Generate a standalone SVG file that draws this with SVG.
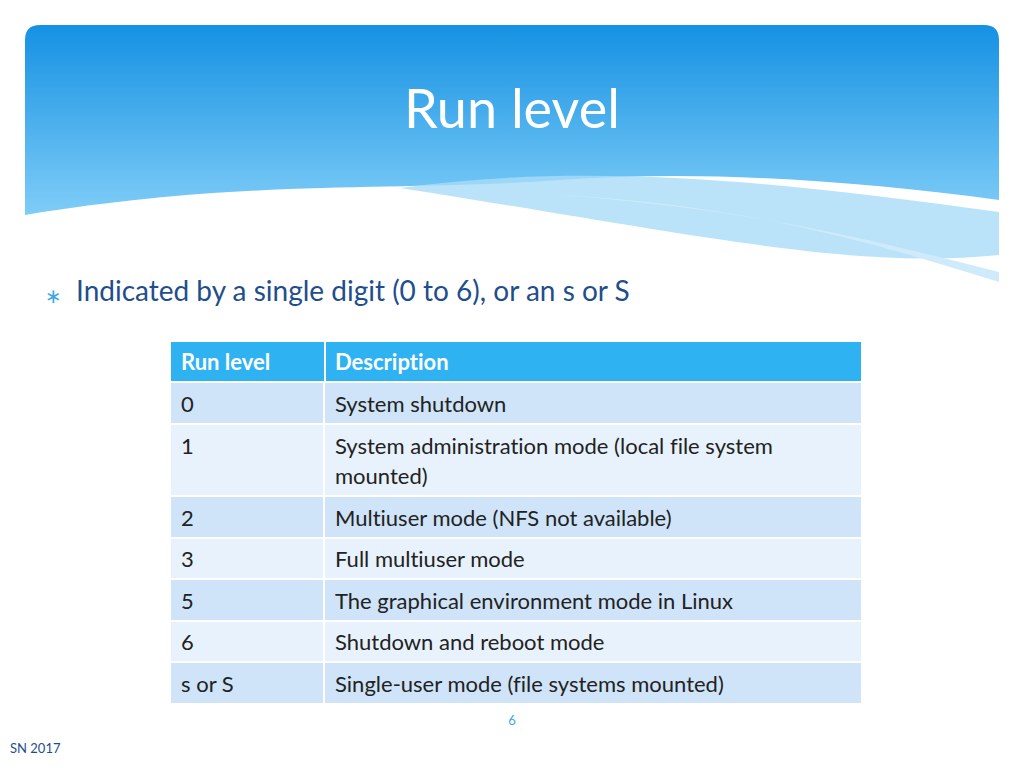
<svg xmlns="http://www.w3.org/2000/svg" width="1024" height="768" viewBox="0 0 1024 768">
<defs>
<linearGradient id="hg" x1="0" y1="0" x2="0" y2="1">
<stop offset="0" stop-color="#1591e3"/><stop offset="1" stop-color="#7fcdf7"/>
</linearGradient>
<style>
text{font-variant-ligatures:none}
.t{font-family:Lato,"Open Sans",sans-serif;font-size:22px;fill:#222}
.h{font-family:Lato,"Open Sans",sans-serif;font-size:22px;fill:#fff;font-weight:bold}
.a{fill:#cfe4f8}.b{fill:#e8f2fc}
</style>
</defs>
<rect width="1024" height="768" fill="#fff"/>
<g id="header">
<path d="M25,40 Q25,25 40,25 L984,25 Q999,25 999,40 L999,200 C850,180 700,170 560,180 C400,192 250,178 25,215 Z" fill="url(#hg)"/>
<path d="M400,188 C600,160 800,185 999,212 L999,255 C850,270 700,235 400,188 Z" fill="#a9dcf8" opacity="0.8"/>
<path d="M560,195 C750,205 880,245 999,282 L999,272 C880,242 760,210 560,195 Z" fill="#cfeafb"/>
<text x="512" y="128" text-anchor="middle" font-family="Lato,'Open Sans',sans-serif" font-size="54" fill="#fff">Run level</text>
</g>
<g id="bullet">
<text x="45" y="303" font-family="DejaVu Sans,sans-serif" font-size="20" fill="#3aa8e8">∗</text>
<text x="76" y="301" font-family="Lato,'Open Sans',sans-serif" font-size="28" fill="#1f4e8c">Indicated by a single digit (0 to 6), or an s or S</text>
</g>
<g id="table">
<rect x="171" y="342" width="690" height="39" fill="#2fb2f2"/>
<rect x="324" y="342" width="2" height="39" fill="#fff"/>
<rect x="171" y="383" width="690" height="40" class="a"/>
<rect x="171" y="425" width="690" height="70" class="b"/>
<rect x="171" y="497" width="690" height="40" class="a"/>
<rect x="171" y="539" width="690" height="39" class="b"/>
<rect x="171" y="580" width="690" height="40" class="a"/>
<rect x="171" y="622" width="690" height="39" class="b"/>
<rect x="171" y="663" width="690" height="40" class="a"/>
<rect x="323" y="383" width="2" height="320" fill="#fff"/>
<text x="181" y="370" class="h">Run level</text><text x="335" y="370" class="h">Description</text>
<text x="181" y="412" class="t">0</text><text x="335" y="412" class="t">System shutdown</text>
<text x="181" y="454" class="t">1</text><text x="335" y="454" class="t">System administration mode (local file system</text>
<text x="335" y="484" class="t">mounted)</text>
<text x="181" y="526" class="t">2</text><text x="335" y="526" class="t">Multiuser mode (NFS not available)</text>
<text x="181" y="567" class="t">3</text><text x="335" y="567" class="t">Full multiuser mode</text>
<text x="181" y="609" class="t">5</text><text x="335" y="609" class="t">The graphical environment mode in Linux</text>
<text x="181" y="650" class="t">6</text><text x="335" y="650" class="t">Shutdown and reboot mode</text>
<text x="181" y="692" class="t">s or S</text><text x="335" y="692" class="t">Single-user mode (file systems mounted)</text>
</g>
<text x="512" y="725" text-anchor="middle" font-family="Lato,sans-serif" font-size="13" fill="#3aa8e8">6</text>
<text x="10" y="753" font-family="Lato,sans-serif" font-size="13" fill="#1f4e8c">SN 2017</text>
</svg>
